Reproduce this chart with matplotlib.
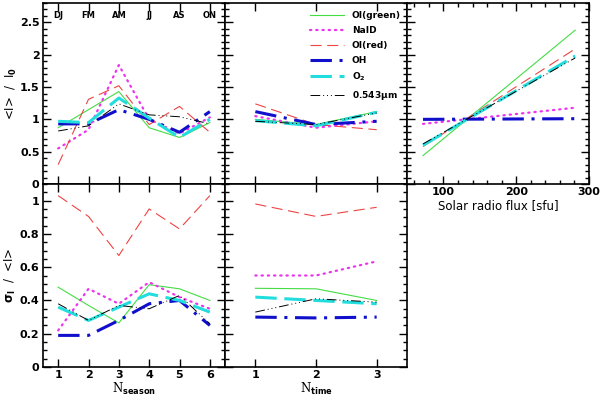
import numpy as np
import matplotlib
matplotlib.use('Agg')
import matplotlib.pyplot as plt
from matplotlib.ticker import MultipleLocator, FixedLocator, NullLocator

# season / time / flux data
seasons = [1, 2, 3, 4, 5, 6]
season_names = ['DJ', 'FM', 'AM', 'JJ', 'AS', 'ON']
times = [1, 2, 3]
flux = [72, 281]

names = ['OI(green)', 'NaID', 'OI(red)', 'OH', 'O$_2$', '0.543$\\mu$m']

# <I>/I0 per season
rel_season = {
    'OI(green)': [0.87, 1.15, 1.43, 0.87, 0.72, 0.95],
    'NaID': [0.55, 0.84, 1.84, 1.0, 0.78, 1.03],
    'OI(red)': [0.3, 1.31, 1.52, 0.92, 1.2, 0.8],
    'OH': [0.93, 0.93, 1.15, 1.0, 0.8, 1.12],
    'O$_2$': [0.97, 0.95, 1.33, 1.02, 0.72, 1.0],
    '0.543$\\mu$m': [0.82, 0.9, 1.24, 1.07, 1.04, 0.93],
}
# <I>/I0 per night time
rel_time = {
    'OI(green)': [1.0, 0.92, 1.12],
    'NaID': [1.05, 0.87, 0.97],
    'OI(red)': [1.24, 0.92, 0.84],
    'OH': [1.12, 0.92, 0.97],
    'O$_2$': [0.98, 0.9, 1.11],
    '0.543$\\mu$m': [0.97, 0.92, 1.1],
}
# <I>/I0 vs solar flux (fit lines)
rel_flux = {
    'OI(green)': [0.44, 2.38],
    'NaID': [0.93, 1.18],
    'OI(red)': [0.58, 2.09],
    'OH': [1.0, 1.01],
    'O$_2$': [0.6, 1.98],
    '0.543$\\mu$m': [0.62, 1.95],
}
# sigma/<I> per season
sig_season = {
    'OI(green)': [0.48, 0.37, 0.265, 0.495, 0.47, 0.40],
    'NaID': [0.22, 0.47, 0.38, 0.51, 0.42, 0.35],
    'OI(red)': [1.03, 0.905, 0.67, 0.95, 0.83, 1.03],
    'OH': [0.19, 0.19, 0.28, 0.38, 0.40, 0.25],
    'O$_2$': [0.36, 0.28, 0.36, 0.44, 0.40, 0.33],
    '0.543$\\mu$m': [0.38, 0.28, 0.37, 0.35, 0.43, 0.26],
}
# sigma/<I> per night time
sig_time = {
    'OI(green)': [0.473, 0.47, 0.40],
    'NaID': [0.55, 0.55, 0.635],
    'OI(red)': [0.98, 0.905, 0.96],
    'OH': [0.30, 0.295, 0.30],
    'O$_2$': [0.42, 0.40, 0.38],
    '0.543$\\mu$m': [0.33, 0.41, 0.39],
}

styles = {
    'OI(green)': dict(color='#44dd44', lw=0.8, ls='-'),
    'NaID': dict(color='#ee33ee', lw=1.6, ls=(0, (0.6, 2.2)), dash_capstyle='round'),
    'OI(red)': dict(color='#ee4444', lw=0.8, ls=(0, (10, 5))),
    'OH': dict(color='#1010cc', lw=2.2, ls=(0, (7, 2.5, 1, 2.5))),
    'O$_2$': dict(color='#22dddd', lw=2.2, ls=(0, (7, 2.5))),
    '0.543$\\mu$m': dict(color='black', lw=0.7, ls=(0, (10, 3, 1, 3, 1, 3, 1, 3))),
}

plt.rcParams['font.family'] = 'DejaVu Sans'
plt.rcParams['font.weight'] = 'bold'
plt.rcParams['mathtext.default'] = 'bf'

fig = plt.figure(figsize=(6.0, 3.98), dpi=100)
L, W = 43 / 600, 182 / 600
yt, ht = 1 - 184 / 398, 181 / 398
yb, hb = 1 - 367 / 398, 183 / 398

ax_ts = fig.add_axes([L, yt, W, ht])
ax_tt = fig.add_axes([L + W, yt, W, ht])
ax_tf = fig.add_axes([L + 2 * W, yt, W, ht])
ax_bs = fig.add_axes([L, yb, W, hb])
ax_bt = fig.add_axes([L + W, yb, W, hb])

for n in names:
    ax_ts.plot(seasons, rel_season[n], **styles[n])
    ax_tt.plot(times, rel_time[n], label=n, **styles[n])
    ax_tf.plot(flux, rel_flux[n], **styles[n])
    ax_bs.plot(seasons, sig_season[n], **styles[n])
    ax_bt.plot(times, sig_time[n], **styles[n])

for ax in [ax_ts, ax_tt, ax_tf, ax_bs, ax_bt]:
    for s in ax.spines.values():
        s.set_linewidth(1.2)
    ax.tick_params(which='both', direction='in', top=True, right=True, labelsize=8, width=1.0)
    ax.tick_params(which='major', length=6, pad=2.5)
    ax.tick_params(which='minor', length=3)

for ax in [ax_ts, ax_tt, ax_tf]:
    ax.set_ylim(0, 2.8)
    ax.yaxis.set_major_locator(MultipleLocator(0.5))
    ax.yaxis.set_minor_locator(MultipleLocator(0.1))
for ax in [ax_bs, ax_bt]:
    ax.set_ylim(0, 1.1)
    ax.yaxis.set_major_locator(MultipleLocator(0.2))
    ax.yaxis.set_minor_locator(MultipleLocator(0.05))

for ax in [ax_ts, ax_bs]:
    ax.set_xlim(0.5, 6.5)
    ax.xaxis.set_major_locator(FixedLocator(seasons))
    ax.xaxis.set_minor_locator(NullLocator())
for ax in [ax_tt, ax_bt]:
    ax.set_xlim(0.5, 3.5)
    ax.xaxis.set_major_locator(FixedLocator(times))
    ax.xaxis.set_minor_locator(NullLocator())
    ax.tick_params(labelleft=False)

ax_tf.set_xlim(50, 300)
ax_tf.xaxis.set_major_locator(MultipleLocator(100))
ax_tf.xaxis.set_minor_locator(MultipleLocator(20))
ax_tf.tick_params(labelleft=False)

ax_ts.tick_params(labelbottom=False)
ax_tt.tick_params(labelbottom=False)

ax_ts.yaxis.set_major_formatter(plt.FuncFormatter(lambda v, p: '%g' % v))
ax_bs.yaxis.set_major_formatter(plt.FuncFormatter(lambda v, p: '%g' % v))

for x, s in zip(seasons, season_names):
    ax_ts.text(x, 2.6, s, ha='center', va='center', fontsize=6, fontweight='bold')

ax_ts.set_ylabel('<I>  /  I$_0$', fontsize=8.5, labelpad=1)
ax_bs.set_ylabel('$\\sigma_I$  /  <I>', fontsize=8.5, labelpad=1)
ax_bs.set_xlabel('N$_{season}$', fontsize=8.5, family='serif', labelpad=0)
ax_bt.set_xlabel('N$_{time}$', fontsize=8.5, family='serif', labelpad=0)
ax_tf.set_xlabel('Solar radio flux [sfu]', fontsize=8.5, labelpad=1)

ax_tt.legend(loc='upper right', frameon=False, fontsize=6.5, handlelength=3.8,
             labelspacing=0.65, borderaxespad=0.3, bbox_to_anchor=(1.0, 0.99))

fig.savefig('out.png', dpi=100)
